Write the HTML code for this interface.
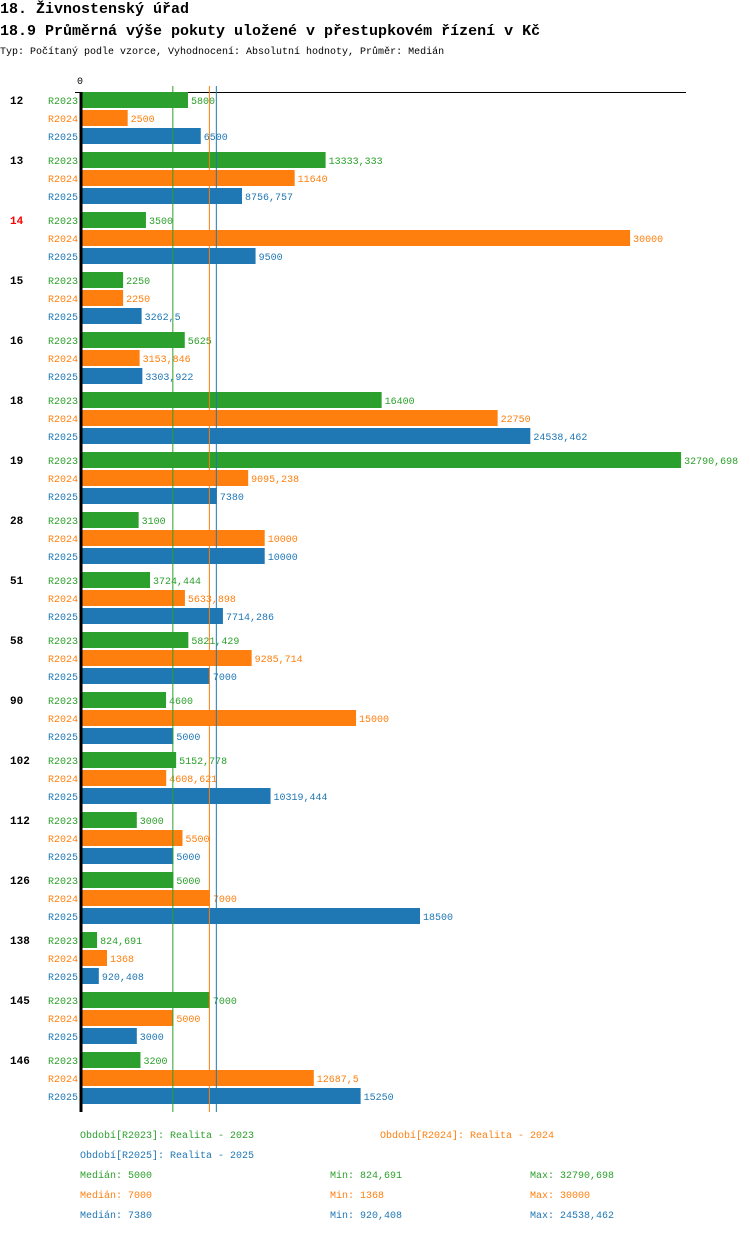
<!DOCTYPE html>
<html><head><meta charset="utf-8"><style>
body{margin:0;background:#fff;width:750px;height:1232px;overflow:hidden;font-family:"Liberation Mono",monospace}
svg text{font-family:"Liberation Mono","DejaVu Sans Mono",monospace}
</style></head><body>
<svg id="c" width="750" height="1232" xmlns="http://www.w3.org/2000/svg">
<text x="0" y="13" font-size="15" font-weight="bold">18. Živnostenský úřad</text>
<text x="0" y="35" font-size="15" font-weight="bold">18.9 Průměrná výše pokuty uložené v přestupkovém řízení v Kč</text>
<text x="0" y="54" font-size="10">Typ: Počítaný podle vzorce, Vyhodnocení: Absolutní hodnoty, Průměr: Medián</text>
<text x="77" y="84" font-size="10">0</text>
<line x1="75" y1="92.5" x2="686" y2="92.5" stroke="#000"/>
<g id="bars"></g>
<line x1="81" y1="92" x2="81" y2="1112" stroke="#000" stroke-width="3"/>
<g font-size="10">
<text x="80" y="1138" fill="#2ca02c">Období[R2023]: Realita - 2023</text>
<text x="380" y="1138" fill="#ff7f0e">Období[R2024]: Realita - 2024</text>
<text x="80" y="1158" fill="#1f77b4">Období[R2025]: Realita - 2025</text>
<text x="80" y="1178" fill="#2ca02c">Medián: 5000</text>
<text x="330" y="1178" fill="#2ca02c">Min: 824,691</text>
<text x="530" y="1178" fill="#2ca02c">Max: 32790,698</text>
<text x="80" y="1198" fill="#ff7f0e">Medián: 7000</text>
<text x="330" y="1198" fill="#ff7f0e">Min: 1368</text>
<text x="530" y="1198" fill="#ff7f0e">Max: 30000</text>
<text x="80" y="1218" fill="#1f77b4">Medián: 7380</text>
<text x="330" y="1218" fill="#1f77b4">Min: 920,408</text>
<text x="530" y="1218" fill="#1f77b4">Max: 24538,462</text>
</g>
</svg>
<script>
const categories=["12","13","14","15","16","18","19","28","51","58","90","102","112","126","138","145","146"];
const seriesNames=["R2023","R2024","R2025"];
const r2023=[5800,13333.333,3500,2250,5625,16400,32790.698,3100,3724.444,5821.429,4600,5152.778,3000,5000,824.691,7000,3200];
const r2024=[2500,11640,30000,2250,3153.846,22750,9095.238,10000,5633.898,9285.714,15000,4608.621,5500,7000,1368,5000,12687.5];
const r2025=[6500,8756.757,9500,3262.5,3303.922,24538.462,7380,10000,7714.286,7000,5000,10319.444,5000,18500,920.408,3000,15250];
const medians=[5000,7000,7380];
const highlighted=["14"];
const colors=["#2ca02c","#ff7f0e","#1f77b4"];
const NS="http://www.w3.org/2000/svg";
const x0=82,scale=0.01827;
const xf=v=>x0+v*scale;
const g=document.getElementById('bars');
function fmt(v){return String(Math.round(v*1000)/1000).replace('.',',');}
function mk(t,a){const e=document.createElementNS(NS,t);for(const k in a)e.setAttribute(k,a[k]);return e;}
const series=[r2023,r2024,r2025];
categories.forEach((c,i)=>{
  const top=92+60*i;
  const gl=mk('text',{x:10,y:top+12,'font-size':11,'font-weight':'bold',fill:highlighted.includes(c)?'#f00':'#000'});
  
  
  gl.textContent=c;g.appendChild(gl);
  series.forEach((s,j)=>{
    const y=top+18*j;
    const lb=mk('text',{x:78,y:y+12,'font-size':10,'text-anchor':'end',fill:colors[j]});
    
    
    lb.textContent=seriesNames[j];g.appendChild(lb);
    const r=mk('rect',{x:x0,y:y,width:xf(s[i])-x0,height:16,fill:colors[j]});
    
    
    g.appendChild(r);
    const vt=mk('text',{x:xf(s[i])+3,y:y+12,'font-size':10,fill:colors[j]});
    
    
    vt.textContent=fmt(s[i]);g.appendChild(vt);
  });
});
medians.forEach((m,j)=>{
  const l=mk('line',{x1:xf(m)-0.5,x2:xf(m)-0.5,y1:86,y2:1112,stroke:colors[j],'stroke-width':1});
  
  
  g.appendChild(l);
});
</script>
</body></html>
